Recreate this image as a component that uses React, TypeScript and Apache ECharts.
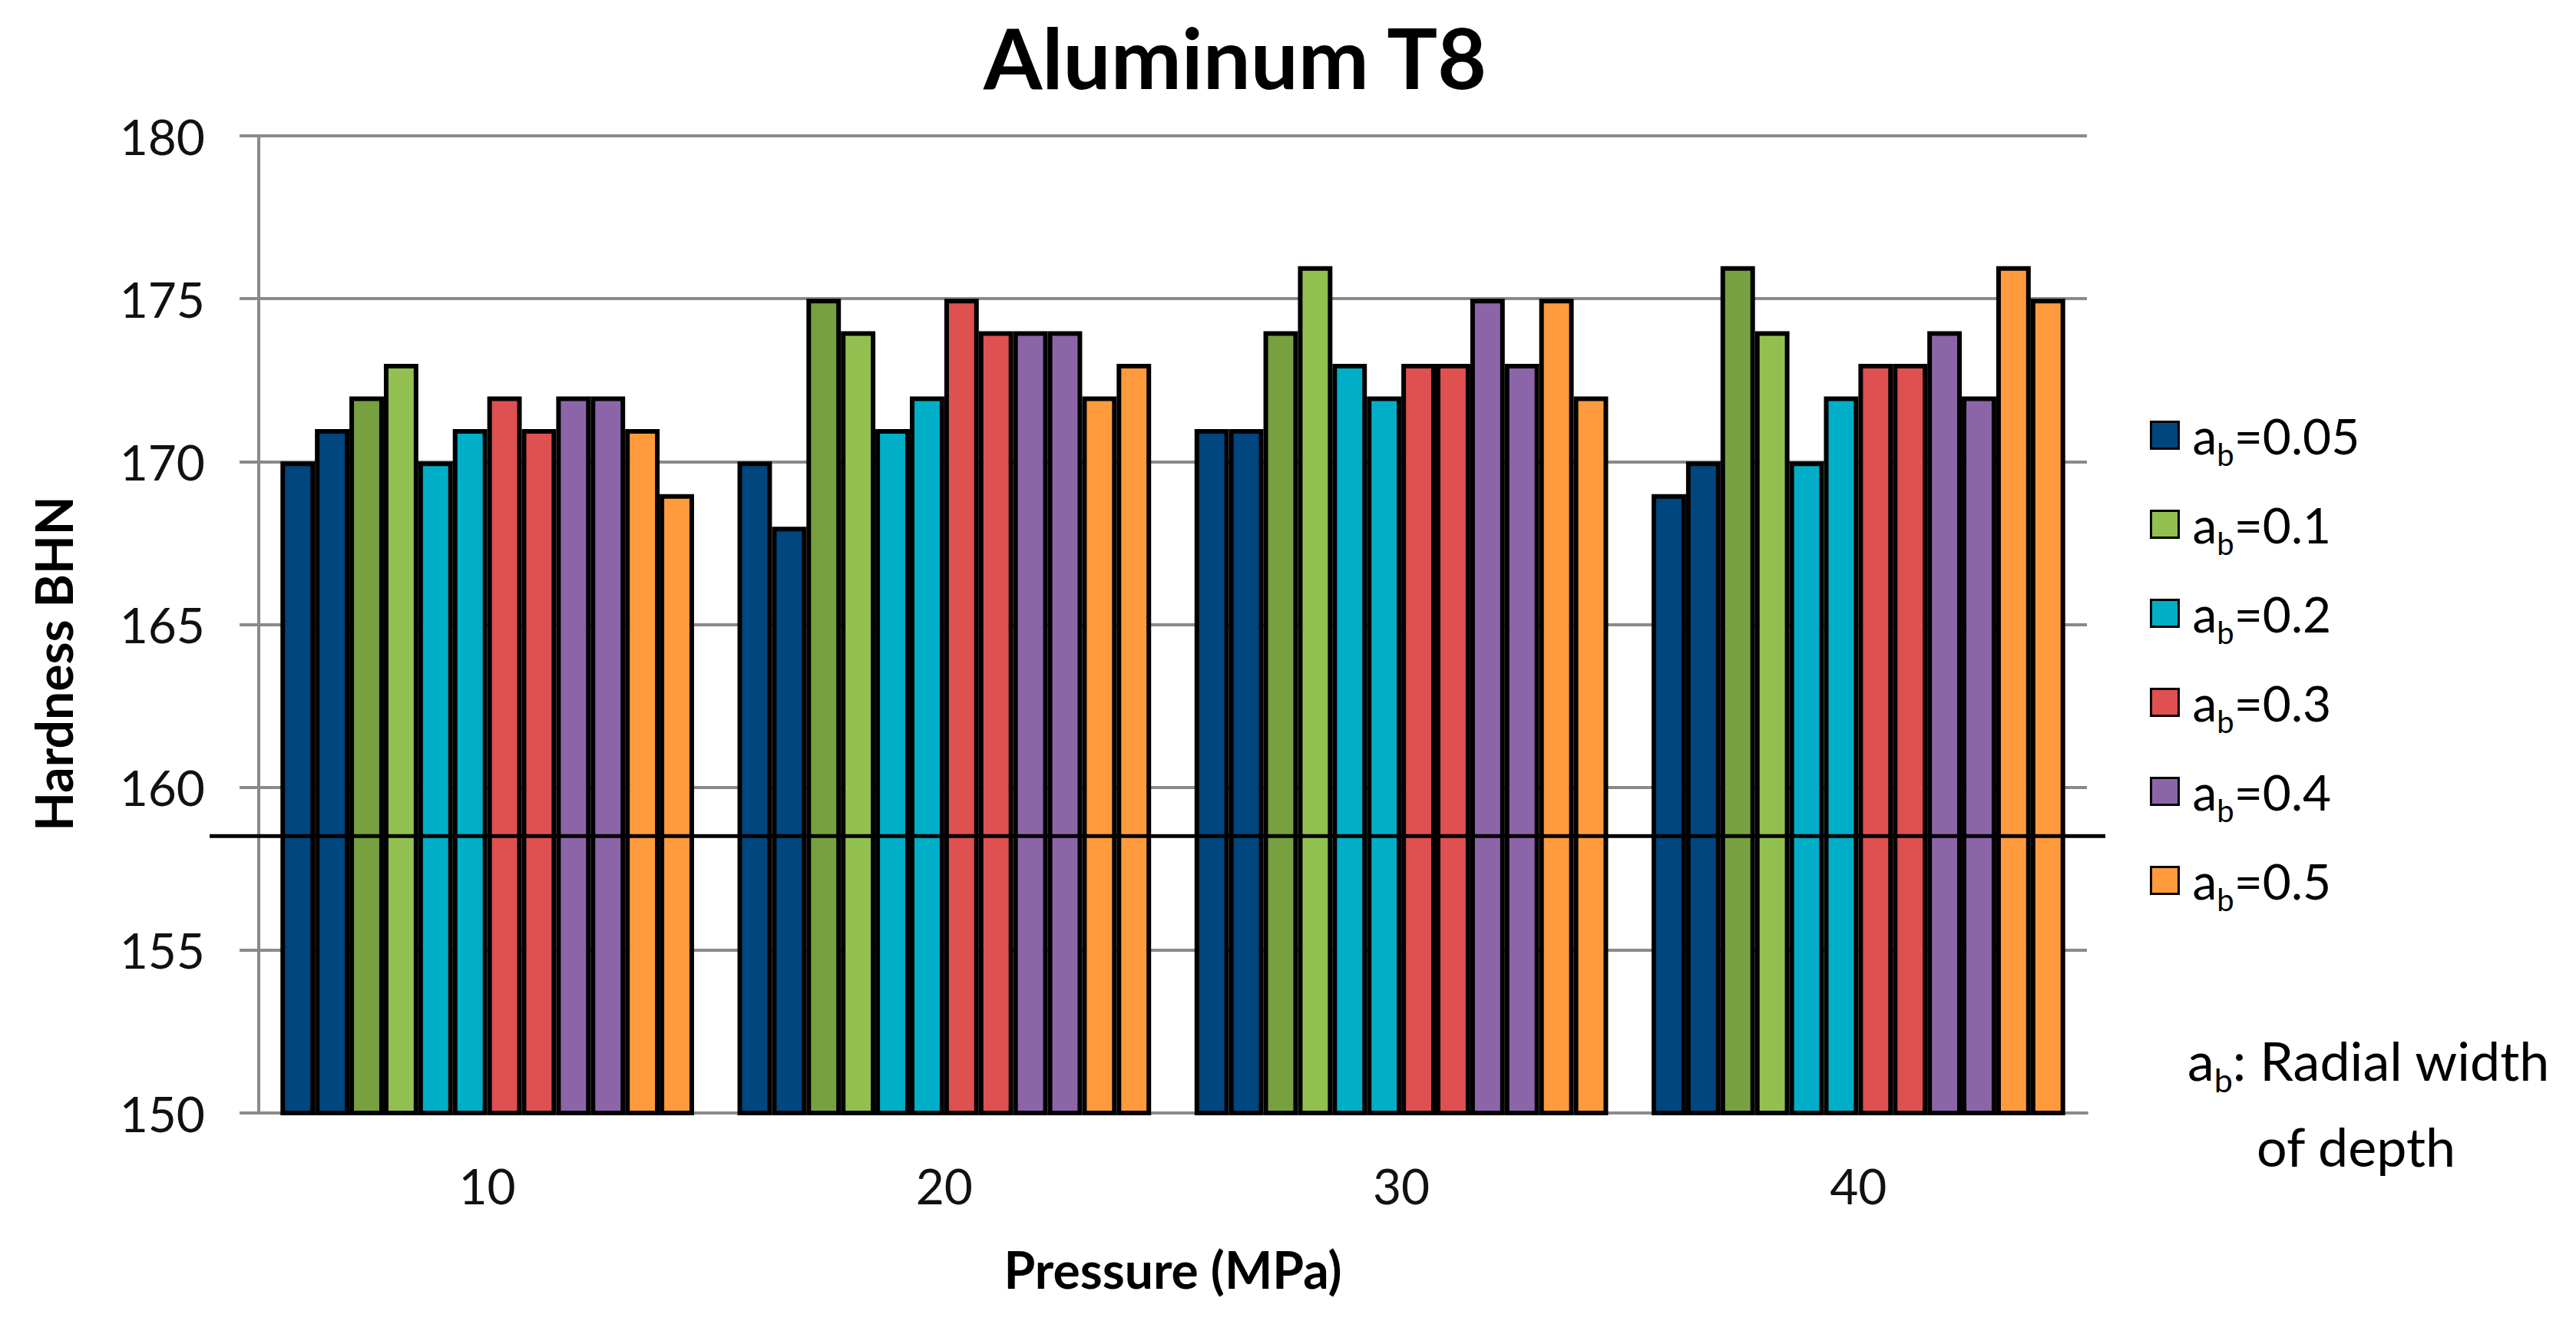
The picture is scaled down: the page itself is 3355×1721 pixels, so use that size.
import React, { useEffect, useRef } from 'react';
import * as echarts from 'echarts';

// pressure categories and the radial widths a_b
const pressures = ['10', '20', '30', '40'];
const widths = ['0.05', '0.1', '0.2', '0.3', '0.4', '0.5'];

// hardness per width: [first bar, second bar], each over the pressures
const ab005 = [[170, 170, 171, 169], [171, 168, 171, 170]];
const ab01 = [[172, 175, 174, 176], [173, 174, 176, 174]];
const ab02 = [[170, 171, 173, 170], [171, 172, 172, 172]];
const ab03 = [[172, 175, 173, 173], [171, 174, 173, 173]];
const ab04 = [[172, 174, 175, 174], [172, 174, 173, 172]];
const ab05 = [[171, 172, 175, 176], [169, 173, 172, 175]];
const hardness = [ab005, ab01, ab02, ab03, ab04, ab05];

const yTicks = { min: 150, max: 180, step: 5 };
const refLine = 158.5;

// [first bar colour, second bar colour]
const colors = [
  ['#00467f', '#00467f'],
  ['#77a040', '#92c050'],
  ['#00aec7', '#00aec7'],
  ['#df5050', '#df5050'],
  ['#8c65a8', '#8c65a8'],
  ['#ff9b3c', '#ff9b3c'],
];

const FONT = 'Lato, "Noto Sans", sans-serif';
const GRAY = '#8a8a8a';
const GRID = { left: 337, right: 637, top: 177, bottom: 271 };

const subRich = {
  a: { fontSize: 64, fontFamily: FONT, color: '#000', padding: [0, 0, 0, 13] },
  t: { fontSize: 64, fontFamily: FONT, color: '#000' },
  s: { fontSize: 40, fontFamily: FONT, color: '#000', padding: [50, 0, 0, 0] },
};

const App = () => {
  const chartRef = useRef(null);

  useEffect(() => {
    const chart = echarts.init(chartRef.current, null, { renderer: 'svg' });

    const series: any[] = [];
    widths.forEach((w, i) => {
      hardness[i].forEach((vals, k) => {
        series.push({
          name: `a_b=${w}`,
          type: 'bar',
          data: vals,
          barGap: '0%',
          barCategoryGap: '9.5%',
          itemStyle: { color: colors[i][k], borderColor: '#000', borderWidth: 6 },
        });
      });
    });

    const option = {
      animation: false,
      backgroundColor: '#fff',
      title: {
        text: 'Aluminum T8',
        left: 1276,
        top: 13,
        textStyle: { fontFamily: FONT, fontWeight: 'bold', fontSize: 110, color: '#000' },
      },
      legend: {
        orient: 'vertical',
        left: 2795,
        top: 530,
        itemWidth: 36,
        itemHeight: 35,
        itemGap: 39,
        icon: 'rect',
        selectedMode: false,
        itemStyle: { borderColor: '#000', borderWidth: 3 },
        data: widths.map((w, i) => ({ name: `a_b=${w}`, itemStyle: { color: colors[i][1] } })),
        formatter: (name: string) => `{a|a}{s|b}{t|=${name.split('=')[1]}}`,
        textStyle: { rich: subRich },
      },
      grid: GRID,
      xAxis: {
        type: 'category',
        data: pressures,
        name: 'Pressure (MPa)',
        nameLocation: 'middle',
        nameGap: 170,
        nameTextStyle: { fontFamily: FONT, fontWeight: 'bold', fontSize: 66, color: '#000' },
        axisLine: { lineStyle: { color: GRAY, width: 4 } },
        axisTick: { length: 26, lineStyle: { color: GRAY, width: 4 } },
        axisLabel: { fontFamily: FONT, fontSize: 64, color: '#111', margin: 62 },
      },
      yAxis: {
        type: 'value',
        min: yTicks.min,
        max: yTicks.max,
        interval: yTicks.step,
        name: 'Hardness BHN',
        nameLocation: 'middle',
        nameGap: 235,
        nameTextStyle: {
          fontFamily: FONT,
          fontWeight: 'bold',
          fontSize: 66,
          color: '#000',
          padding: [0, 102, 0, 0],
        },
        axisLine: { show: true, lineStyle: { color: GRAY, width: 4 } },
        axisTick: { show: true, length: 25, lineStyle: { color: GRAY, width: 4 } },
        axisLabel: { fontFamily: FONT, fontSize: 64, color: '#111', margin: 70 },
        splitLine: { lineStyle: { color: GRAY, width: 4 } },
      },
      series,
    };

    chart.setOption(option);

    const yPix = chart.convertToPixel({ yAxisIndex: 0 }, refLine) as number;
    const plotRight = 3355 - GRID.right;
    chart.setOption({
      graphic: [
        {
          type: 'line',
          z: 100,
          shape: { x1: GRID.left - 64, y1: yPix, x2: plotRight + 24, y2: yPix },
          style: { stroke: '#000', lineWidth: 5 },
        },
        {
          type: 'text',
          x: 2849,
          y: 1333,
          style: {
            text: '{t|a}{s|b}{t|: Radial width}',
            rich: {
              t: { fontSize: 70, fontFamily: FONT, fill: '#000' },
              s: { fontSize: 43, fontFamily: FONT, fill: '#000', padding: [52, 0, 0, 0] },
            },
            verticalAlign: 'top',
          },
        },
        {
          type: 'text',
          x: 2939,
          y: 1458,
          style: {
            text: 'of depth',
            fontSize: 70,
            fontFamily: FONT,
            fill: '#000',
            verticalAlign: 'top',
          },
        },
      ],
    });

    return () => {
      chart.dispose();
    };
  }, []);

  return (
    <div
      ref={chartRef}
      style={{ position: 'absolute', left: 0, top: 0, width: '3355px', height: '1721px' }}
    />
  );
};

export default App;
